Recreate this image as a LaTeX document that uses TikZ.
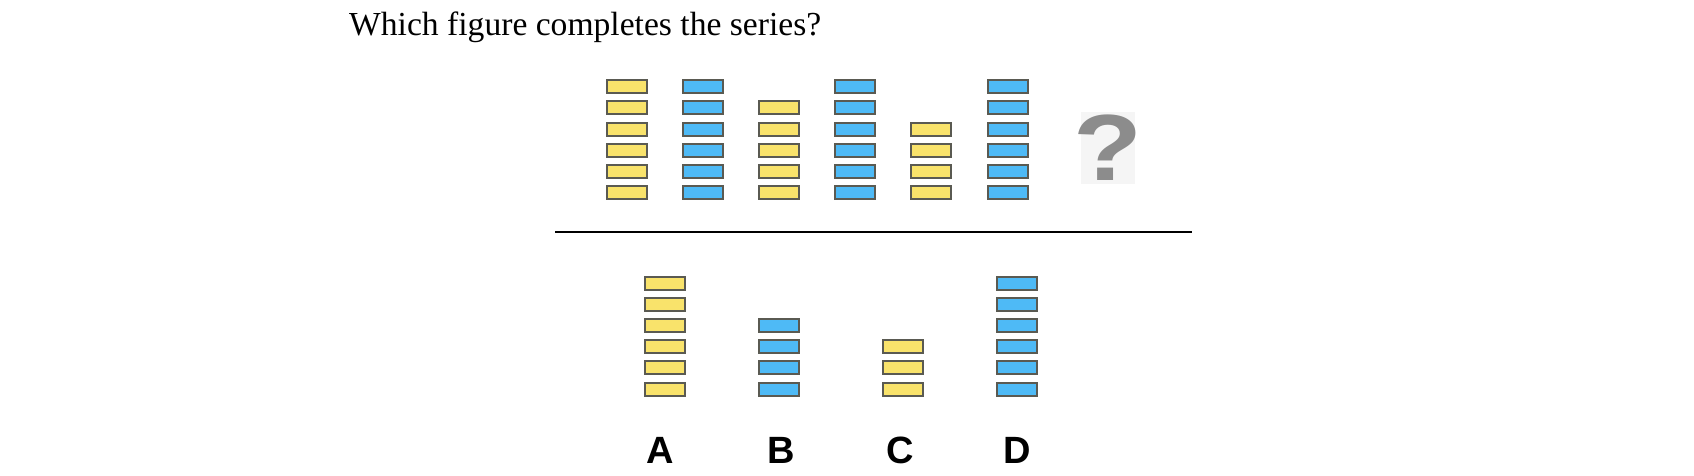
\documentclass[tikz,border=0pt]{standalone}
\usepackage{fontspec}
\setmainfont{Liberation Serif}
\newfontfamily\labelfont{Liberation Sans}
\usepackage{tikz}

\definecolor{baryellow}{RGB}{249,227,107}
\definecolor{barblue}{RGB}{78,186,246}
\definecolor{barline}{RGB}{90,90,82}
\definecolor{qgrey}{RGB}{140,140,140}
\definecolor{qback}{RGB}{245,245,245}

\begin{document}
\begin{tikzpicture}[x=1pt, y=-1pt,
    bar/.style={draw=barline, line width=2pt, minimum width=40pt, minimum height=13pt, inner sep=0pt},
    choice/.style={font=\labelfont\bfseries\fontsize{38}{38}\selectfont, anchor=base, inner sep=0pt}]
                \useasboundingbox (0,0) rectangle (1694,476);
                \node[anchor=base west, inner sep=0pt, font=\fontsize{33.6}{40}\selectfont] (title) at (349,36) {Which figure completes the series?};
                \foreach \n/\c [count=\i] in {6/baryellow, 6/barblue, 5/baryellow, 6/barblue, 4/baryellow, 6/barblue}
                    \foreach \r in {1,...,\n}
                        \node[bar, fill=\c] (s\i-\r) at ({627+76.1*(\i-1)}, {192.8-21.2*(\r-1)}) {};
                \node[fill=qback, minimum width=54pt, minimum height=71pt, inner sep=0pt] (qbox) at (1108,148) {};
                \node[inner sep=0pt, text=qgrey, font=\labelfont\bfseries\fontsize{94}{94}\selectfont] (qmark) at (qbox.center) {\scalebox{1.2}[1]{?}};
                \coordinate (rule-l) at (555,232);
                \coordinate (rule-r) at (1192,232);
                \draw[line width=2pt] (rule-l) -- (rule-r);
                \foreach \lab/\x/\n/\c/\lx in {A/665/6/baryellow/660, B/779/4/barblue/781, C/902.5/3/baryellow/900, D/1016.5/6/barblue/1017} {
                    \foreach \r in {1,...,\n}
                        \node[bar, fill=\c] (\lab-\r) at (\x, {389-21.2*(\r-1)}) {};
                    \node[choice] (lab\lab) at (\lx,463) {\lab};
                }
            \end{tikzpicture}
\end{document}
